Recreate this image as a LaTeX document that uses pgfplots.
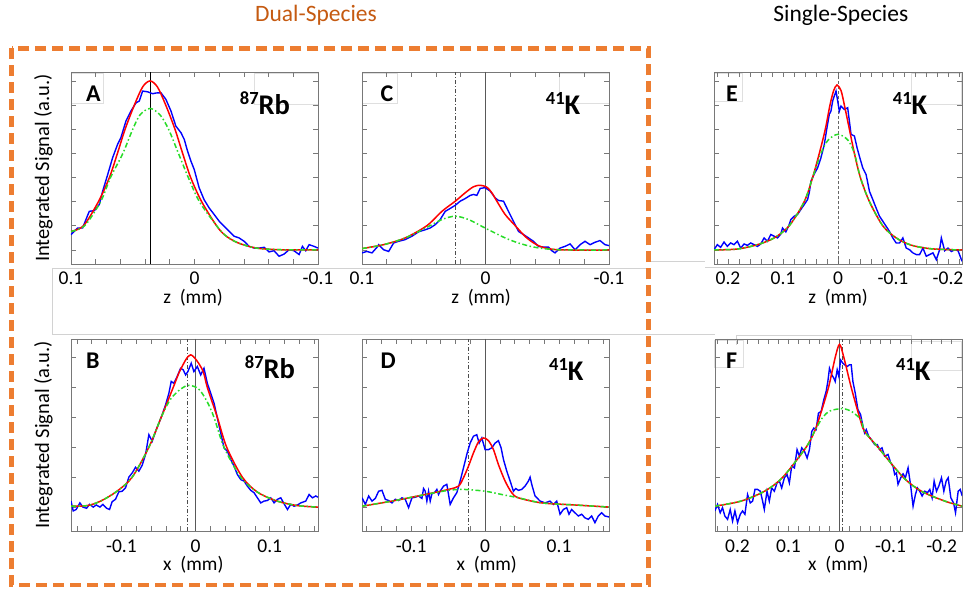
\documentclass[border=0pt]{standalone}
\usepackage{fontspec}
\setmainfont{Carlito}
\usepackage{pgfplots}
\pgfplotsset{compat=1.18}

\definecolor{boxorange}{RGB}{237,125,49}
\definecolor{titleorange}{RGB}{197,90,17}
\definecolor{fitgreen}{RGB}{40,220,40}
\definecolor{axgray}{RGB}{120,120,120}

\newcommand\tickfont{\fontsize{19.5}{20}\selectfont}
\newcommand\labfont{\fontsize{19.5}{22}\selectfont}
\newcommand\ylabfont{\fontsize{20.5}{22}\selectfont}
\newcommand\letfont{\fontsize{24}{24}\selectfont\bfseries}
\newcommand\iso[2]{\bfseries\fontsize{28.5}{30}\selectfont\raisebox{10pt}{\fontsize{18.5}{18.5}\selectfont #1}#2}

\pgfplotsset{
  panel/.style={
    scale only axis, width=247pt, height=192pt, anchor=south west,
    axis line style={axgray, line width=0.9pt},
    tick style={axgray, line width=0.7pt},
    major tick length=5pt, minor tick length=5pt,
    tick align=inside,
    yticklabels={},
    xticklabel style={font=\tickfont, anchor=base, inner sep=0pt, yshift=-21pt},
  },
  toprow/.style={panel, ymin=-0.58, ymax=7.37, ytick={0,...,7}},
  botrow/.style={panel, ymin=-0.8, ymax=5.62, ytick={0,...,5}},
  blueline/.style={blue, line width=1.4pt},
  redfit/.style={red, line width=1.5pt, smooth},
  greenfit/.style={fitgreen, line width=1.5pt, smooth, dash pattern=on 5pt off 2.5pt on 1.5pt off 2.5pt},
  solidref/.style={black!65, line width=0.9pt},
  dashdotref/.style={black!70, line width=0.8pt, dash pattern=on 4pt off 2pt on 1pt off 2pt},
}

\begin{document}
\begin{tikzpicture}[x=1pt, y=1pt]
\useasboundingbox (0,0) rectangle (968,597);

% faint leftover frames from the slide
\begin{scope}[gray!35, line width=0.8pt]
\draw (52,329) -- (650,329);
\draw (650,336) -- (705,336);
\draw (705,330) -- (962,330);
\draw (52,329) -- (52,263) -- (715,263);
\draw (736.7,252) -- (736.7,262) -- (911.7,262) -- (911.7,227);
\end{scope}
\begin{scope}[gray!25, line width=0.6pt]
\draw (71.3,524) rectangle (103,494);
\draw (254.7,524) rectangle (318.7,492.3);
\draw (362.3,524) rectangle (397.3,494);
\draw (559,524) rectangle (609.7,494);
\draw (714.3,524) rectangle (742.7,495.7);
\draw (911,524) rectangle (961.7,492.3);
\draw (714.3,256.3) rectangle (743.7,229.7);
\draw (911,256) rectangle (961.7,226.3);
\end{scope}

% ---------- A ----------
\begin{axis}[toprow, at={(71pt,333pt)}, x dir=reverse,
  xmin=-0.1, xmax=0.1, xtick={-0.1,0,0.1}, xticklabels={-0.1,0,0.1},
  minor xtick={-0.08,-0.06,...,0.081}]
\addplot[black, line width=0.8pt] coordinates {(0.036,-0.58)(0.036,7.37)};
\addplot[blueline] coordinates {
(0.1,0.64)(0.0946,0.91)(0.0906,0.91)(0.0879,1.26)(0.0852,1.60)(0.0811,1.63)(0.0771,1.88)
(0.0744,2.43)(0.0703,3.12)(0.0663,3.82)(0.0623,4.37)(0.0596,4.65)(0.0555,5.34)(0.0515,5.75)
(0.0474,6.09)(0.0447,6.17)(0.0420,6.58)(0.0380,6.55)(0.0339,6.47)(0.0312,6.50)(0.0272,6.51)
(0.0232,6.24)(0.0191,5.76)(0.0151,5.13)(0.0110,4.86)(0.0083,4.58)(0.0056,4.09)(0.0029,3.68)
(0.0002,3.33)(-0.0038,2.57)(-0.0078,2.08)(-0.0119,1.74)(-0.0159,1.47)(-0.0200,1.19)
(-0.0240,0.98)(-0.0281,0.77)(-0.0321,0.57)(-0.0361,0.50)(-0.0402,0.36)(-0.0442,0.15)
(-0.0483,0.08)(-0.0523,0.08)(-0.0564,0.11)(-0.0604,-0.08)(-0.0644,-0.03)(-0.0685,-0.26)
(-0.0725,-0.17)(-0.0766,0.01)(-0.0806,-0.03)(-0.0847,-0.19)(-0.0874,0.15)(-0.0901,-0.03)
(-0.0928,0.22)(-0.0968,0.15)(-0.1,0.08)};
\addplot[redfit] coordinates {
(0.1,0.77)(0.0899,1.0)(0.0778,2.0)(0.0689,3.0)(0.0624,4.0)(0.0562,5.0)(0.0487,6.0)
(0.042,6.75)(0.036,7.0)(0.030,6.75)(0.0233,6.0)(0.0158,5.0)(0.0096,4.0)(0.0031,3.0)
(-0.0058,2.0)(-0.0179,1.0)(-0.025,0.6)(-0.035,0.3)(-0.05,0.08)(-0.07,0.01)(-0.1,0.0)};
\addplot[greenfit] coordinates {
(0.1,0.77)(0.089,1.0)(0.076,2.0)(0.068,3.0)(0.058,4.0)(0.050,5.0)(0.044,5.6)(0.036,5.86)
(0.028,5.6)(0.021,5.0)(0.013,4.0)(0.005,3.0)(-0.004,2.0)(-0.018,1.0)(-0.025,0.6)
(-0.035,0.3)(-0.05,0.08)(-0.07,0.01)(-0.1,0.0)};
\end{axis}

% ---------- C ----------
\begin{axis}[toprow, at={(362pt,333pt)}, x dir=reverse,
  xmin=-0.1, xmax=0.1, xtick={-0.1,0,0.1}, xticklabels={-0.1,0,0.1},
  minor xtick={-0.08,-0.06,...,0.081}]
\addplot[dashdotref] coordinates {(0.024,-0.58)(0.024,7.37)};
\addplot[solidref] coordinates {(0,-0.58)(0,7.37)};
\addplot[blueline] coordinates {
(0.1000,-0.12)(0.0960,-0.06)(0.0919,-0.12)(0.0879,0.11)(0.0865,0.22)(0.0825,0.01)(0.0784,-0.06)
(0.0744,0.29)(0.0704,0.36)(0.0650,0.43)(0.0596,0.57)(0.0542,0.75)(0.0488,0.84)(0.0448,0.91)
(0.0407,1.05)(0.0367,1.26)(0.0326,1.60)(0.0286,1.72)(0.0245,1.85)(0.0205,2.02)(0.0164,2.13)
(0.0124,2.26)(0.0097,2.30)(0.0070,2.26)(0.0043,2.55)(0.0003,2.58)(-0.0038,2.44)(-0.0078,2.16)
(-0.0105,2.05)(-0.0146,2.02)(-0.0186,1.60)(-0.0226,1.19)(-0.0267,0.77)(-0.0307,0.64)
(-0.0348,0.50)(-0.0388,0.36)(-0.0429,0.15)(-0.0469,0.12)(-0.0510,0.12)(-0.0537,-0.03)
(-0.0563,-0.12)(-0.0604,0.08)(-0.0644,0.15)(-0.0685,0.25)(-0.0725,0.01)(-0.0766,0.22)
(-0.0806,0.36)(-0.0847,0.22)(-0.0887,0.32)(-0.0927,0.39)(-0.0968,0.22)(-0.1000,0.18)};
\addplot[redfit] coordinates {
(0.1,0.06)(0.0825,0.22)(0.065,0.50)(0.0474,1.01)(0.0353,1.60)(0.0245,2.02)(0.0164,2.37)
(0.0097,2.62)(0.0043,2.68)(-0.0011,2.60)(-0.0051,2.37)(-0.0092,2.02)(-0.0159,1.47)
(-0.0240,1.01)(-0.0334,0.50)(-0.0442,0.15)(-0.0590,0.01)(-0.1,0.0)};
\addplot[greenfit] coordinates {
(0.1,0.06)(0.0825,0.22)(0.065,0.50)(0.0474,0.94)(0.0353,1.26)(0.0245,1.40)(0.0137,1.26)
(0.0030,0.98)(-0.0051,0.77)(-0.0159,0.50)(-0.0267,0.29)(-0.0402,0.11)(-0.0590,0.01)(-0.1,0.0)};
\end{axis}

% ---------- E ----------
\begin{axis}[toprow, at={(714pt,333pt)}, width=248pt, x dir=reverse,
  xmin=-0.2255, xmax=0.2255, xtick={-0.2,-0.1,0,0.1,0.2},
  xticklabels={-0.2,-0.1,0,0.1,0.2}, minor xtick={-0.22,-0.2,...,0.221}]
\addplot[black!60, line width=0.9pt, dash pattern=on 3pt off 2pt] coordinates {(0,-0.58)(0,7.37)};
\addplot[blueline] coordinates {
(0.2256,0.01)(0.2195,0.22)(0.2134,0.11)(0.2073,0.33)(0.2012,0.15)(0.1952,0.29)(0.1891,0.22)
(0.1830,0.36)(0.1769,0.08)(0.1708,0.25)(0.1648,0.19)(0.1587,0.29)(0.1526,0.22)(0.1465,0.15)
(0.1404,0.25)(0.1344,0.50)(0.1283,0.36)(0.1222,0.64)(0.1161,0.57)(0.1100,0.50)(0.1040,0.66)
(0.1009,0.91)(0.0948,0.75)(0.0888,1.05)(0.0857,1.26)(0.0796,1.40)(0.0736,1.47)(0.0675,1.68)
(0.0614,1.88)(0.0553,2.09)(0.0523,2.37)(0.0492,2.85)(0.0432,3.15)(0.0371,3.40)(0.0310,3.82)
(0.0249,4.37)(0.0201,5.06)(0.0158,5.62)(0.0128,5.75)(0.0097,6.17)(0.0067,6.38)(0.0036,6.58)
(0.0006,6.17)(-0.0024,5.75)(-0.0055,5.96)(-0.0116,5.82)(-0.0176,5.89)(-0.0237,4.79)
(-0.0298,4.72)(-0.0347,4.23)(-0.0389,3.88)(-0.0450,3.40)(-0.0511,3.12)(-0.0572,2.43)
(-0.0632,2.09)(-0.0693,1.74)(-0.0754,1.40)(-0.0815,1.19)(-0.0876,0.98)(-0.0936,0.77)
(-0.0997,0.50)(-0.1058,0.29)(-0.1119,0.29)(-0.1180,0.50)(-0.1240,0.08)(-0.1301,0.01)
(-0.1362,-0.12)(-0.1423,-0.19)(-0.1484,-0.19)(-0.1544,0.08)(-0.1605,-0.26)(-0.1666,-0.19)
(-0.1727,-0.12)(-0.1788,-0.40)(-0.1848,0.01)(-0.1879,0.50)(-0.1940,-0.03)(-0.2000,0.08)
(-0.2061,-0.06)(-0.2122,0.01)(-0.2183,-0.03)(-0.2256,-0.47)};
\addplot[redfit] coordinates {
(0.2255,0)(0.183,0.04)(0.1465,0.22)(0.116,0.50)(0.0888,1.0)(0.0614,2.0)(0.0462,3.0)
(0.0340,4.0)(0.0231,5.0)(0.0146,6.0)(0.0079,6.6)(0.0018,6.83)(-0.0055,6.6)(-0.0116,6.0)
(-0.0207,5.0)(-0.0298,4.0)(-0.0407,3.0)(-0.0572,2.0)(-0.0815,1.0)(-0.1058,0.5)
(-0.1332,0.2)(-0.1696,0.05)(-0.2255,0)};
\addplot[greenfit] coordinates {
(0.2255,0)(0.183,0.04)(0.1465,0.22)(0.116,0.50)(0.0888,1.0)(0.0614,2.0)(0.0462,3.0)
(0.031,4.0)(0.018,4.55)(0,4.79)(-0.018,4.55)(-0.0298,4.0)(-0.0407,3.0)(-0.0572,2.0)
(-0.0815,1.0)(-0.1058,0.5)(-0.1332,0.2)(-0.1696,0.05)(-0.2255,0)};
\end{axis}

% ---------- B ----------
\begin{axis}[botrow, at={(71pt,66pt)},
  xmin=-0.168, xmax=0.165, xtick={-0.1,0,0.1}, xticklabels={-0.1,0,0.1},
  minor xtick={-0.16,-0.14,...,0.161}]
\addplot[dashdotref] coordinates {(-0.011,-0.8)(-0.011,5.62)};
\addplot[solidref] coordinates {(0,-0.8)(0,5.62)};
\addplot[blueline] coordinates {
(-0.168,0.20)(-0.165,-0.13)(-0.161,-0.08)(-0.156,0.14)(-0.152,0.0)(-0.147,-0.04)(-0.143,0.09)
(-0.138,0.0)(-0.134,0.07)(-0.129,0.0)(-0.125,0.09)(-0.120,-0.04)(-0.116,-0.08)(-0.1125,0.18)
(-0.108,0.26)(-0.1035,0.51)(-0.099,0.53)(-0.0945,0.64)(-0.090,1.0)(-0.0855,1.14)(-0.081,1.33)
(-0.0765,1.2)(-0.072,1.4)(-0.0675,1.76)(-0.063,2.42)(-0.0585,2.2)(-0.054,2.53)(-0.0495,2.81)
(-0.045,3.09)(-0.0405,3.42)(-0.036,3.81)(-0.0329,4.2)(-0.0293,4.14)(-0.0248,4.37)
(-0.0203,4.64)(-0.0167,4.59)(-0.0135,4.42)(-0.0104,4.53)(-0.0059,4.81)(-0.0023,4.53)
(0.0023,4.7)(0.0068,4.42)(0.0113,4.64)(0.0158,4.14)(0.0203,3.81)(0.0248,3.48)(0.0293,2.98)
(0.0338,2.48)(0.0383,1.98)(0.0428,1.87)(0.0473,1.59)(0.0518,1.37)(0.0563,1.09)(0.0608,0.92)
(0.0653,0.87)(0.0698,0.70)(0.0743,0.56)(0.0788,0.48)(0.0833,0.31)(0.0878,0.14)(0.0923,0.2)
(0.0968,0.22)(0.1013,0.31)(0.1058,0.14)(0.1103,0.26)(0.1148,0.31)(0.1193,0.11)(0.1238,-0.08)
(0.1283,0.09)(0.1328,0.03)(0.1373,0.07)(0.1418,0.14)(0.1485,0.2)(0.153,0.42)(0.1575,0.31)
(0.162,0.37)(0.165,0.33)};
\addplot[redfit] coordinates {
(-0.168,0.03)(-0.146,0.05)(-0.128,0.2)(-0.106,0.53)(-0.0855,1.0)(-0.063,2.0)(-0.0464,3.0)
(-0.0302,4.0)(-0.0203,4.6)(-0.0068,5.09)(0.009,4.6)(0.0158,4.0)(0.0293,3.0)(0.0419,2.0)
(0.063,1.0)(0.0833,0.5)(0.110,0.2)(0.137,0.05)(0.165,0.0)};
\addplot[greenfit] coordinates {
(-0.168,0.03)(-0.146,0.05)(-0.128,0.2)(-0.106,0.53)(-0.0855,1.0)(-0.063,2.0)(-0.0464,3.0)
(-0.034,3.6)(-0.02,3.95)(-0.009,4.07)(0.004,3.95)(0.015,3.55)(0.0248,3.0)(0.0383,2.0)
(0.0608,1.0)(0.0833,0.5)(0.110,0.2)(0.137,0.05)(0.165,0.0)};
\end{axis}

% ---------- D ----------
\begin{axis}[botrow, at={(362pt,66pt)},
  xmin=-0.1665, xmax=0.1675, xtick={-0.1,0,0.1}, xticklabels={-0.1,0,0.1},
  minor xtick={-0.16,-0.14,...,0.161}]
\addplot[dashdotref] coordinates {(-0.0226,-0.8)(-0.0226,5.62)};
\addplot[solidref] coordinates {(0,-0.8)(0,5.62)};
\addplot[blueline] coordinates {
(-0.1665,0.31)(-0.162,0.09)(-0.1575,0.37)(-0.153,0.2)(-0.1485,0.29)(-0.144,0.53)(-0.1395,0.56)
(-0.135,0.26)(-0.1305,0.22)(-0.126,0.14)(-0.1215,0.26)(-0.117,0.22)(-0.1125,0.31)(-0.108,0.26)
(-0.1035,-0.02)(-0.099,0.31)(-0.0945,0.33)(-0.09,0.37)(-0.0855,0.29)(-0.0833,0.62)(-0.081,0.53)
(-0.0788,0.2)(-0.0765,0.53)(-0.0743,0.2)(-0.072,0.44)(-0.0675,0.51)(-0.0653,0.59)(-0.063,0.42)
(-0.0608,0.53)(-0.0563,0.70)(-0.0518,0.76)(-0.0473,0.09)(-0.0428,0.31)(-0.0383,0.48)
(-0.0338,0.87)(-0.0293,1.31)(-0.0248,1.76)(-0.0203,2.14)(-0.0158,2.37)(-0.0113,2.42)
(-0.0081,2.14)(-0.0045,2.31)(0.0,1.92)(0.0045,1.92)(0.009,1.98)(0.0135,2.14)(0.018,2.22)
(0.0216,1.98)(0.0248,1.59)(0.0293,1.2)(0.0338,0.87)(0.0383,0.53)(0.0414,0.62)(0.045,0.56)
(0.0495,0.59)(0.054,0.70)(0.0585,0.87)(0.0608,1.0)(0.063,0.76)(0.0675,0.37)(0.0743,0.2)
(0.081,0.14)(0.0878,0.2)(0.0923,0.09)(0.0968,0.2)(0.1013,-0.24)(0.1058,-0.08)(0.1103,-0.02)
(0.1134,-0.24)(0.117,-0.08)(0.1215,-0.19)(0.126,-0.3)(0.1305,-0.24)(0.135,-0.36)(0.1395,-0.41)
(0.144,-0.3)(0.1485,-0.52)(0.153,-0.3)(0.1575,-0.19)(0.162,-0.3)(0.1674,-0.33)};
\addplot[redfit] coordinates {
(-0.1665,0.03)(-0.126,0.2)(-0.081,0.42)(-0.0495,0.59)(-0.036,0.7)(-0.0293,0.98)(-0.0225,1.37)
(-0.0158,1.81)(-0.009,2.18)(-0.0023,2.31)(0.0045,2.22)(0.0113,1.92)(0.018,1.42)(0.027,0.87)
(0.036,0.48)(0.045,0.31)(0.0765,0.14)(0.1215,0.07)(0.1674,0.0)};
\addplot[greenfit] coordinates {
(-0.1665,0.03)(-0.126,0.2)(-0.081,0.42)(-0.0495,0.56)(-0.0293,0.59)(0.0,0.53)(0.0225,0.42)
(0.045,0.31)(0.0765,0.14)(0.1215,0.07)(0.1674,0.0)};
\end{axis}

% ---------- F ----------
\begin{axis}[botrow, at={(715pt,66pt)}, x dir=reverse,
  xmin=-0.240, xmax=0.244, xtick={-0.2,-0.1,0,0.1,0.2},
  xticklabels={-0.2,-0.1,0,0.1,0.2}, minor xtick={-0.24,-0.22,...,0.241}]
\addplot[solidref] coordinates {(0,-0.8)(0,5.62)};
\addplot[dashdotref] coordinates {(-0.005,-0.8)(-0.005,5.62)};
\addplot[blueline] coordinates {
(0.2443,-0.13)(0.2391,0.09)(0.2338,-0.19)(0.2293,-0.02)(0.2247,-0.3)(0.2194,-0.41)(0.2142,-0.08)
(0.2096,-0.47)(0.2050,-0.13)(0.1998,-0.52)(0.1945,-0.24)(0.1900,-0.13)(0.1854,-0.24)(0.1802,0.42)
(0.1749,0.14)(0.1703,0.2)(0.1657,0.59)(0.1605,0.59)(0.1552,0.53)(0.1507,0.2)(0.1474,-0.08)
(0.1421,0.53)(0.1376,0.2)(0.1330,0.64)(0.1277,0.53)(0.1225,0.81)(0.1179,0.87)(0.1133,0.64)
(0.1081,0.98)(0.1028,1.09)(0.0983,0.81)(0.0937,1.37)(0.0884,1.31)(0.0832,1.92)(0.0786,1.7)
(0.0740,1.98)(0.0688,1.87)(0.0635,1.64)(0.0590,1.92)(0.0544,2.53)(0.0504,2.64)(0.0459,2.59)
(0.0413,3.14)(0.0360,3.2)(0.0308,3.59)(0.0262,3.87)(0.0229,4.2)(0.0197,4.64)(0.0151,4.42)
(0.0111,4.31)(0.0085,4.2)(0.0046,4.59)(0.0013,4.37)(-0.0020,4.92)(-0.0066,4.81)(-0.0098,4.76)
(-0.0151,4.7)(-0.0197,4.76)(-0.0229,4.76)(-0.0262,4.2)(-0.0308,3.81)(-0.0360,3.26)
(-0.0413,3.09)(-0.0459,2.7)(-0.0491,2.48)(-0.0524,2.59)(-0.0570,2.37)(-0.0622,2.26)
(-0.0688,2.09)(-0.0740,2.09)(-0.0786,1.92)(-0.0832,1.98)(-0.0884,1.7)(-0.0950,1.76)
(-0.1002,1.48)(-0.1048,1.37)(-0.1081,1.09)(-0.1114,1.14)(-0.1146,0.76)(-0.1199,0.98)
(-0.1245,1.11)(-0.1290,0.98)(-0.1343,1.31)(-0.1395,0.70)(-0.1441,0.03)(-0.1487,0.42)
(-0.1526,0.64)(-0.1572,0.53)(-0.1618,0.37)(-0.1670,0.53)(-0.1723,0.48)(-0.1769,0.59)
(-0.1814,0.31)(-0.1854,0.87)(-0.1900,0.53)(-0.1945,0.70)(-0.1998,0.98)(-0.2044,0.53)
(-0.2089,0.87)(-0.2129,0.98)(-0.2181,0.31)(-0.2234,0.14)(-0.2273,-0.19)(-0.2325,0.53)
(-0.2365,0.59)(-0.2404,0.37)};
\addplot[redfit] coordinates {
(0.2443,0.03)(0.193,0.2)(0.147,0.53)(0.111,1.0)(0.0655,2.0)(0.049,2.53)(0.0393,3.0)
(0.0216,4.0)(0.0085,5.0)(0.0,5.44)(-0.0085,5.0)(-0.0229,4.0)(-0.0393,3.0)(-0.0491,2.53)
(-0.0753,2.0)(-0.1245,1.0)(-0.1605,0.53)(-0.2063,0.2)(-0.2404,0.03)};
\addplot[greenfit] coordinates {
(0.2443,0.03)(0.193,0.2)(0.147,0.53)(0.111,1.0)(0.0655,2.0)(0.049,2.53)(0.033,3.0)
(0.018,3.22)(-0.0066,3.29)(-0.025,3.18)(-0.0426,2.9)(-0.0491,2.53)(-0.0753,2.0)
(-0.1245,1.0)(-0.1605,0.53)(-0.2063,0.2)(-0.2404,0.03)};
\end{axis}

% ---------- text ----------
\node[anchor=base, text=titleorange, font=\fontsize{23.5}{25}\selectfont] at (316,575.3) {Dual-Species};
\node[anchor=base, font=\fontsize{23.5}{25}\selectfont] at (840.8,575.3) {Single-Species};

\node[rotate=90, inner sep=0, font=\ylabfont] at (43.3,429) {Integrated Signal (a.u.)};
\node[rotate=90, inner sep=0, font=\ylabfont] at (43.3,162) {Integrated Signal (a.u.)};

\node[anchor=base, inner sep=0, font=\labfont] at (193,293.5) {z~~(mm)};
\node[anchor=base, inner sep=0, font=\labfont] at (481,293.5) {z~~(mm)};
\node[anchor=base, inner sep=0, font=\labfont] at (838,293.5) {z~~(mm)};
\node[anchor=base, inner sep=0, font=\labfont] at (193.3,26.5) {x~~(mm)};
\node[anchor=base, inner sep=0, font=\labfont] at (486.7,26.5) {x~~(mm)};
\node[anchor=base, inner sep=0, font=\labfont] at (838.3,26.5) {x~~(mm)};

\node[anchor=base west, inner sep=0] at (86,495.7) {\letfont A};
\node[anchor=base west, inner sep=0] at (380.5,495.7) {\letfont C};
\node[anchor=base west, inner sep=0] at (726,495.7) {\letfont E};
\node[anchor=base west, inner sep=0] at (86,228) {\letfont B};
\node[anchor=base west, inner sep=0] at (380.5,228) {\letfont D};
\node[anchor=base west, inner sep=0] at (726,228.7) {\letfont F};

\node[anchor=base west, inner sep=0] at (239.7,482.3) {\iso{87}{Rb}};
\node[anchor=base west, inner sep=0] at (545.7,482.3) {\iso{41}{K}};
\node[anchor=base west, inner sep=0] at (892.7,482.3) {\iso{41}{K}};
\node[anchor=base west, inner sep=0] at (244.7,218) {\iso{87}{Rb}};
\node[anchor=base west, inner sep=0] at (549,216.3) {\iso{41}{K}};
\node[anchor=base west, inner sep=0] at (896,216.3) {\iso{41}{K}};

% orange dashed frame
\draw[boxorange, line width=4.5pt, dash pattern=on 11pt off 6pt] (11.7,548.7) rectangle (648.3,12);
\end{tikzpicture}
\end{document}
